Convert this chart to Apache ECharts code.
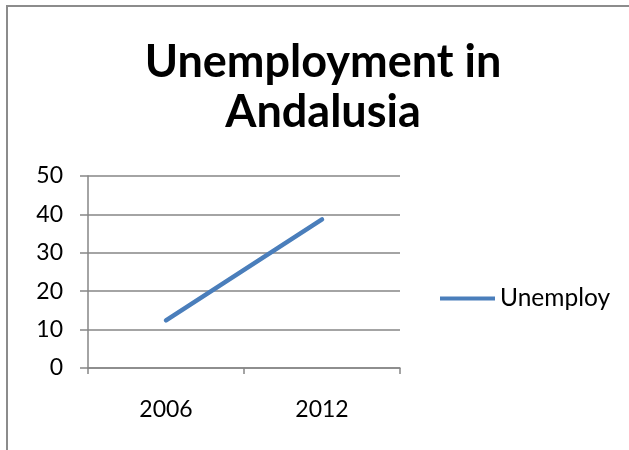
<!DOCTYPE html>
<html>
<head>
<meta charset="utf-8">
<script src="https://cdn.jsdelivr.net/npm/echarts@6/dist/echarts.min.js"></script>
<style>
  html, body { margin: 0; padding: 0; background: #fff; }
  #chart { width: 629px; height: 450px; }
</style>
</head>
<body>
<div id="chart"></div>
<script>
// Unemployment rate in Andalusia (%)
const years = ['2006', '2012'];
const unemployment = [12.4, 38.7];
const seriesName = 'Unemploy';
const titleLines = ['Unemployment in', 'Andalusia'];

const chart = echarts.init(document.getElementById('chart'));
const axisGray = '#868686';
const font = 'Lato, "Open Sans", sans-serif';

chart.setOption({
  animation: false,
  backgroundColor: '#fff',
  title: {
    text: titleLines.join('\n'),
    left: 318,
    top: 32,
    textAlign: 'center',
    textStyle: {
      fontFamily: font,
      fontWeight: 'bold',
      fontSize: 45,
      lineHeight: 50,
      color: '#000'
    }
  },
  legend: {
    data: [seriesName],
    left: 440,
    top: 286,
    padding: 0,
    itemWidth: 55,
    itemHeight: 4,
    itemGap: 0,
    icon: 'rect',
    textStyle: { fontFamily: font, fontSize: 24.5, color: '#000' }
  },
  grid: { left: 88, right: 229, top: 176, bottom: 82 },
  xAxis: {
    type: 'category',
    data: years,
    boundaryGap: true,
    axisLine: { lineStyle: { color: axisGray, width: 1.5 } },
    axisTick: { show: true, length: 6, lineStyle: { color: axisGray, width: 1.5 } },
    axisLabel: { fontFamily: font, fontSize: 23, color: '#000', margin: 30 }
  },
  yAxis: {
    type: 'value',
    min: 0,
    max: 50,
    interval: 10,
    axisLine: { show: true, lineStyle: { color: axisGray, width: 1.5 } },
    axisTick: { show: true, length: 8, inside: false, lineStyle: { color: axisGray, width: 1.5 } },
    splitLine: { lineStyle: { color: axisGray, width: 1.5 } },
    axisLabel: { fontFamily: font, fontSize: 23, color: '#000', margin: 25 }
  },
  series: [{
    name: seriesName,
    type: 'line',
    data: unemployment,
    symbol: 'none',
    lineStyle: { color: '#4a7ebb', width: 4.5, cap: 'round' },
    itemStyle: { color: '#4a7ebb' }
  }],
  graphic: [
    { type: 'line', shape: { x1: 7, y1: 6, x2: 7, y2: 450 }, style: { stroke: '#8c8c8c', lineWidth: 2 } },
    { type: 'line', shape: { x1: 6, y1: 6, x2: 629, y2: 6 }, style: { stroke: '#8c8c8c', lineWidth: 2 } }
  ]
});
</script>
</body>
</html>
